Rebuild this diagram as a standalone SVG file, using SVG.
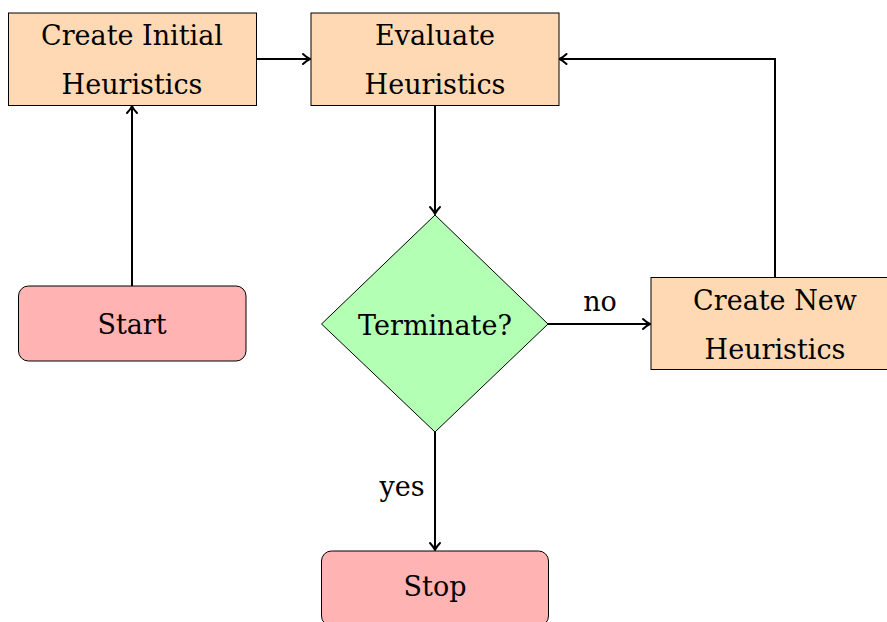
<svg xmlns="http://www.w3.org/2000/svg" width="887" height="622" viewBox="0 0 887 622">
  <style>
    .proc { fill: #FFD9B3; stroke: #000; stroke-width: 1; }
    .term { fill: #FFB3B3; stroke: #000; stroke-width: 1; }
    .dec  { fill: #B3FFB3; stroke: #000; stroke-width: 1; }
    text  { font-family: "DejaVu Serif", "Liberation Serif", serif; font-size: 27px; fill: #000; text-anchor: middle; }
    .edge { fill: none; stroke: #000; stroke-width: 2; marker-end: url(#tip); }
  </style>
  <defs>
    <marker id="tip" markerUnits="userSpaceOnUse" markerWidth="14" markerHeight="14" viewBox="-10 -7 12 14" refX="0" refY="0" orient="auto">
      <path d="M -7,-5 C -4,-2.2 -1.5,-0.6 0,0 C -1.5,0.6 -4,2.2 -7,5" fill="none" stroke="#000" stroke-width="2" stroke-linecap="round"/>
    </marker>
  </defs>

  <g id="connectors">
    <path class="edge" d="M 256,59 L 310,59"/>
    <path class="edge" d="M 132,286 L 132,106"/>
    <path class="edge" d="M 435,105 L 435,214"/>
    <path class="edge" d="M 548,324 L 650,324"/>
    <path class="edge" d="M 775,277 L 775,59 L 559.5,59"/>
    <path class="edge" d="M 435,432 L 435,550"/>
    <text x="600" y="311">no</text>
    <text x="402" y="496">yes</text>
  </g>

  <g id="create-initial">
    <rect class="proc" x="8.5" y="13" width="248" height="92.5"/>
    <text x="132" y="45">Create Initial</text>
    <text x="132" y="94">Heuristics</text>
  </g>

  <g id="evaluate">
    <rect class="proc" x="311" y="13" width="248" height="92.5"/>
    <text x="435" y="45">Evaluate</text>
    <text x="435" y="94">Heuristics</text>
  </g>

  <g id="start">
    <rect class="term" x="18.5" y="286" width="227.5" height="75" rx="10" ry="10"/>
    <text x="132" y="334">Start</text>
  </g>

  <g id="terminate">
    <polygon class="dec" points="435,215 548,324 435,432 321.5,324"/>
    <text x="435" y="335">Terminate?</text>
  </g>

  <g id="create-new">
    <rect class="proc" x="651" y="277.5" width="248" height="92"/>
    <text x="775" y="310">Create New</text>
    <text x="775" y="359">Heuristics</text>
  </g>

  <g id="stop">
    <rect class="term" x="321.5" y="551" width="227" height="75" rx="10" ry="10"/>
    <text x="435" y="596">Stop</text>
  </g>
</svg>
